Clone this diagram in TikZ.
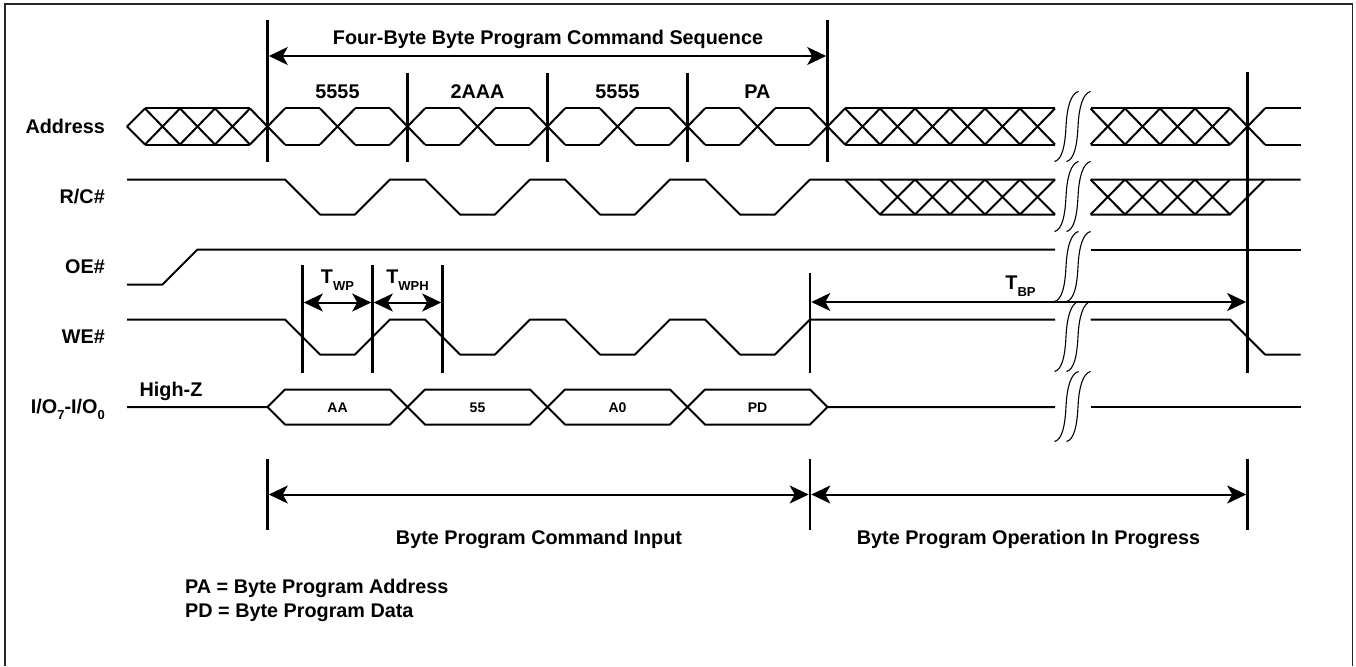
\documentclass[tikz,border=0pt]{standalone}
\usepackage{fontspec}
\setmainfont{Liberation Sans}
\usetikzlibrary{arrows.meta}
\newcommand{\sigsub}[2]{\raisebox{#1}{\fontsize{13}{13}\selectfont #2}}
\newcommand{\busx}[3]{% one column of crossing lines, x #1 to #2, centred on y #3
  \draw[wave] (#1,#3-18) -- (#2,#3+18) (#1,#3+18) -- (#2,#3-18);}
\begin{document}
\begin{tikzpicture}[
    x=1pt, y=-1pt,
    wave/.style={line width=2pt, line join=round},
    marker/.style={line width=2.6pt},
    dim/.style={line width=2pt, {Stealth[length=19pt,width=18pt,inset=5pt]}-{Stealth[length=19pt,width=18pt,inset=5pt]}},
    txt/.style={font=\fontsize{19.8}{22}\selectfont\bfseries, inner sep=0pt},
    small/.style={font=\fontsize{14}{16}\selectfont\bfseries, inner sep=0pt},
    brk/.style={line width=1.1pt},
  ]
    \useasboundingbox (0,0) rectangle (1356,666);
    % frame
    \draw[line width=1.8pt, black!85] (5,666) |- (1352.5,4) -- (1352.5,666);

    % signal names
    \node[txt, anchor=base east] (addr) at (105,133.3) {Address};
    \node[txt, anchor=base east] (rc)   at (105,203.3) {R/C\#};
    \node[txt, anchor=base east] (oe)   at (105,273)   {OE\#};
    \node[txt, anchor=base east] (we)   at (105,343.3) {WE\#};
    \node[txt, anchor=base east] (io)   at (105,413.3) {I/O\sigsub{-6pt}{7}-I/O\sigsub{-6pt}{0}};
    \node[txt, anchor=base] (hiz) at (171,396) {High-Z};

    % Address
    \draw[wave] (145,108.5) -- (250,108.5) (145,144.5) -- (250,144.5);
    \draw[wave] (145,108.5) -- (127,126.5) -- (145,144.5);
    \foreach \x in {145,180,215,250} { \busx{\x}{\x+35}{126.5} }
    \foreach \x in {285,355,425,495,565,635,705,775}
      \draw[wave] (\x,108.5) -- (\x+35,108.5) (\x,144.5) -- (\x+35,144.5);
    \foreach \x in {320,390,460,530,600,670,740,810} { \busx{\x}{\x+35}{126.5} }
    \draw[wave] (845,108.5) -- (1055,108.5) (845,144.5) -- (1055,144.5);
    \foreach \x in {845,880,...,1020} { \busx{\x}{\x+35}{126.5} }
    \draw[wave] (1090.5,108.5) -- (1230,108.5) (1090.5,144.5) -- (1230,144.5);
    \foreach \x/\w in {1090.5/34.5,1125/35,1160/35,1195/35,1230/35} { \busx{\x}{\x+\w}{126.5} }
    \draw[wave] (1265,108.5) -- (1300.5,108.5) (1265,144.5) -- (1300.5,144.5);

    % R/C#
    \draw[wave] (127,179.5) -- (285,179.5) -- (320,214.5) -- (355,214.5) -- (390,179.5)
      -- (425,179.5) -- (460,214.5) -- (495,214.5) -- (530,179.5) -- (565,179.5)
      -- (600,214.5) -- (635,214.5) -- (670,179.5) -- (705,179.5) -- (740,214.5)
      -- (775,214.5) -- (810,179.5) -- (1055,179.5);
    \draw[wave] (845,179.5) -- (880,214.5) -- (1055,214.5);
    \foreach \x in {880,915,...,1020} {
      \draw[wave] (\x,179.5) -- (\x+35,214.5) (\x,214.5) -- (\x+35,179.5); }
    \draw[wave] (1090.5,179.5) -- (1300.5,179.5) (1090.5,214.5) -- (1230,214.5) -- (1265,179.5);
    \foreach \x/\w in {1090.5/34.5,1125/35,1160/35,1195/35} {
      \draw[wave] (\x,179.5) -- (\x+\w,214.5) (\x,214.5) -- (\x+\w,179.5); }

    % OE#
    \draw[wave] (127,284.5) -- (162.5,284.5) -- (197.5,249.5) -- (1055,249.5);
    \draw[wave] (1090.5,249.5) -- (1300.5,249.5);

    % WE#
    \draw[wave] (127,319.5) -- (285,319.5) -- (320,354.5) -- (355,354.5) -- (390,319.5)
      -- (425,319.5) -- (460,354.5) -- (495,354.5) -- (530,319.5) -- (565,319.5)
      -- (600,354.5) -- (635,354.5) -- (670,319.5) -- (705,319.5) -- (740,354.5)
      -- (775,354.5) -- (810,319.5) -- (1055,319.5);
    \draw[wave] (1090.5,319.5) -- (1230,319.5) -- (1265,354.5) -- (1300.5,354.5);

    % I/O
    \draw[wave] (127,407) -- (267.5,407) -- (285,389.5) -- (390,389.5) -- (425,424.5)
      -- (530,424.5) -- (565,389.5) -- (670,389.5) -- (705,424.5) -- (810,424.5)
      -- (827.5,407) -- (1055,407);
    \draw[wave] (267.5,407) -- (285,424.5) -- (390,424.5) -- (425,389.5) -- (530,389.5)
      -- (565,424.5) -- (670,424.5) -- (705,389.5) -- (810,389.5) -- (827.5,407);
    \draw[wave] (1090.5,407) -- (1300.5,407);
    \node[small, anchor=base] (aa) at (337.5,412) {AA};
    \node[small, anchor=base] (dd) at (477.5,412) {55};
    \node[small, anchor=base] (a0) at (617.5,412) {A0};
    \node[small, anchor=base] (pd) at (757.5,412) {PD};

    % break marks
    \foreach \t in {91.5,161.5,231.5,301.5,371.5}
      \foreach \dx in {0,12}
        \draw[brk] (1054.5+\dx,\t+70) .. controls (1062+\dx,\t+68) and (1065+\dx,\t+55) .. (1066+\dx,\t+35)
          .. controls (1067+\dx,\t+15) and (1071+\dx,\t+2) .. (1078.5+\dx,\t);

    % markers and spans
    \coordinate (ma) at (267.5,20);
    \coordinate (mb) at (827.5,20);
    \draw[marker] (ma) -- (267.5,162);
    \draw[marker] (mb) -- (827.5,162);
    \foreach \x in {407.5,547.5,687.5} \draw[marker] (\x,73) -- (\x,162);
    \draw[dim] (268.8,56) -- (826.2,56);
    \node[txt, anchor=base] (seq) at (548,45) {Four-Byte Byte Program Command Sequence};
    \node[txt, anchor=base] (ad1) at (337.5,98.3) {5555};
    \node[txt, anchor=base] (ad2) at (477.5,98.3) {2AAA};
    \node[txt, anchor=base] (ad3) at (617.5,98.3) {5555};
    \node[txt, anchor=base] (ad4) at (757.5,98.3) {PA};

    \foreach \x in {302.5,372.5,442.5} \draw[marker] (\x,265) -- (\x,372.5);
    \draw[dim] (303.8,302.5) -- (371.2,302.5);
    \draw[dim] (373.8,302.5) -- (441.2,302.5);
    \node[txt, anchor=base] (twp) at (337.5,283) {T\sigsub{-7pt}{WP}};
    \node[txt, anchor=base] (twph) at (407.5,283) {T\sigsub{-7pt}{WPH}};

    \draw[marker] (810,273) -- (810,372.5);
    \draw[marker] (1247.5,72) -- (1247.5,372.5);
    \draw[dim] (811.3,302) -- (1246.2,302);
    \node[txt, anchor=base] (tbp) at (1020.5,289) {T\sigsub{-7pt}{BP}};

    \foreach \x in {267.5,810,1247.5} \draw[marker] (\x,459) -- (\x,530);
    \draw[dim] (268.8,494.5) -- (808.7,494.5);
    \draw[dim] (811.3,494.5) -- (1246.2,494.5);
    \node[txt, anchor=base] (inp) at (539,544.3) {Byte Program Command Input};
    \node[txt, anchor=base] (opr) at (1028.5,544.3) {Byte Program Operation In Progress};

    \node[txt, anchor=base west] (npa) at (185,593.5) {PA = Byte Program Address};
    \node[txt, anchor=base west] (npd) at (185,617) {PD = Byte Program Data};
  \end{tikzpicture}
\end{document}
